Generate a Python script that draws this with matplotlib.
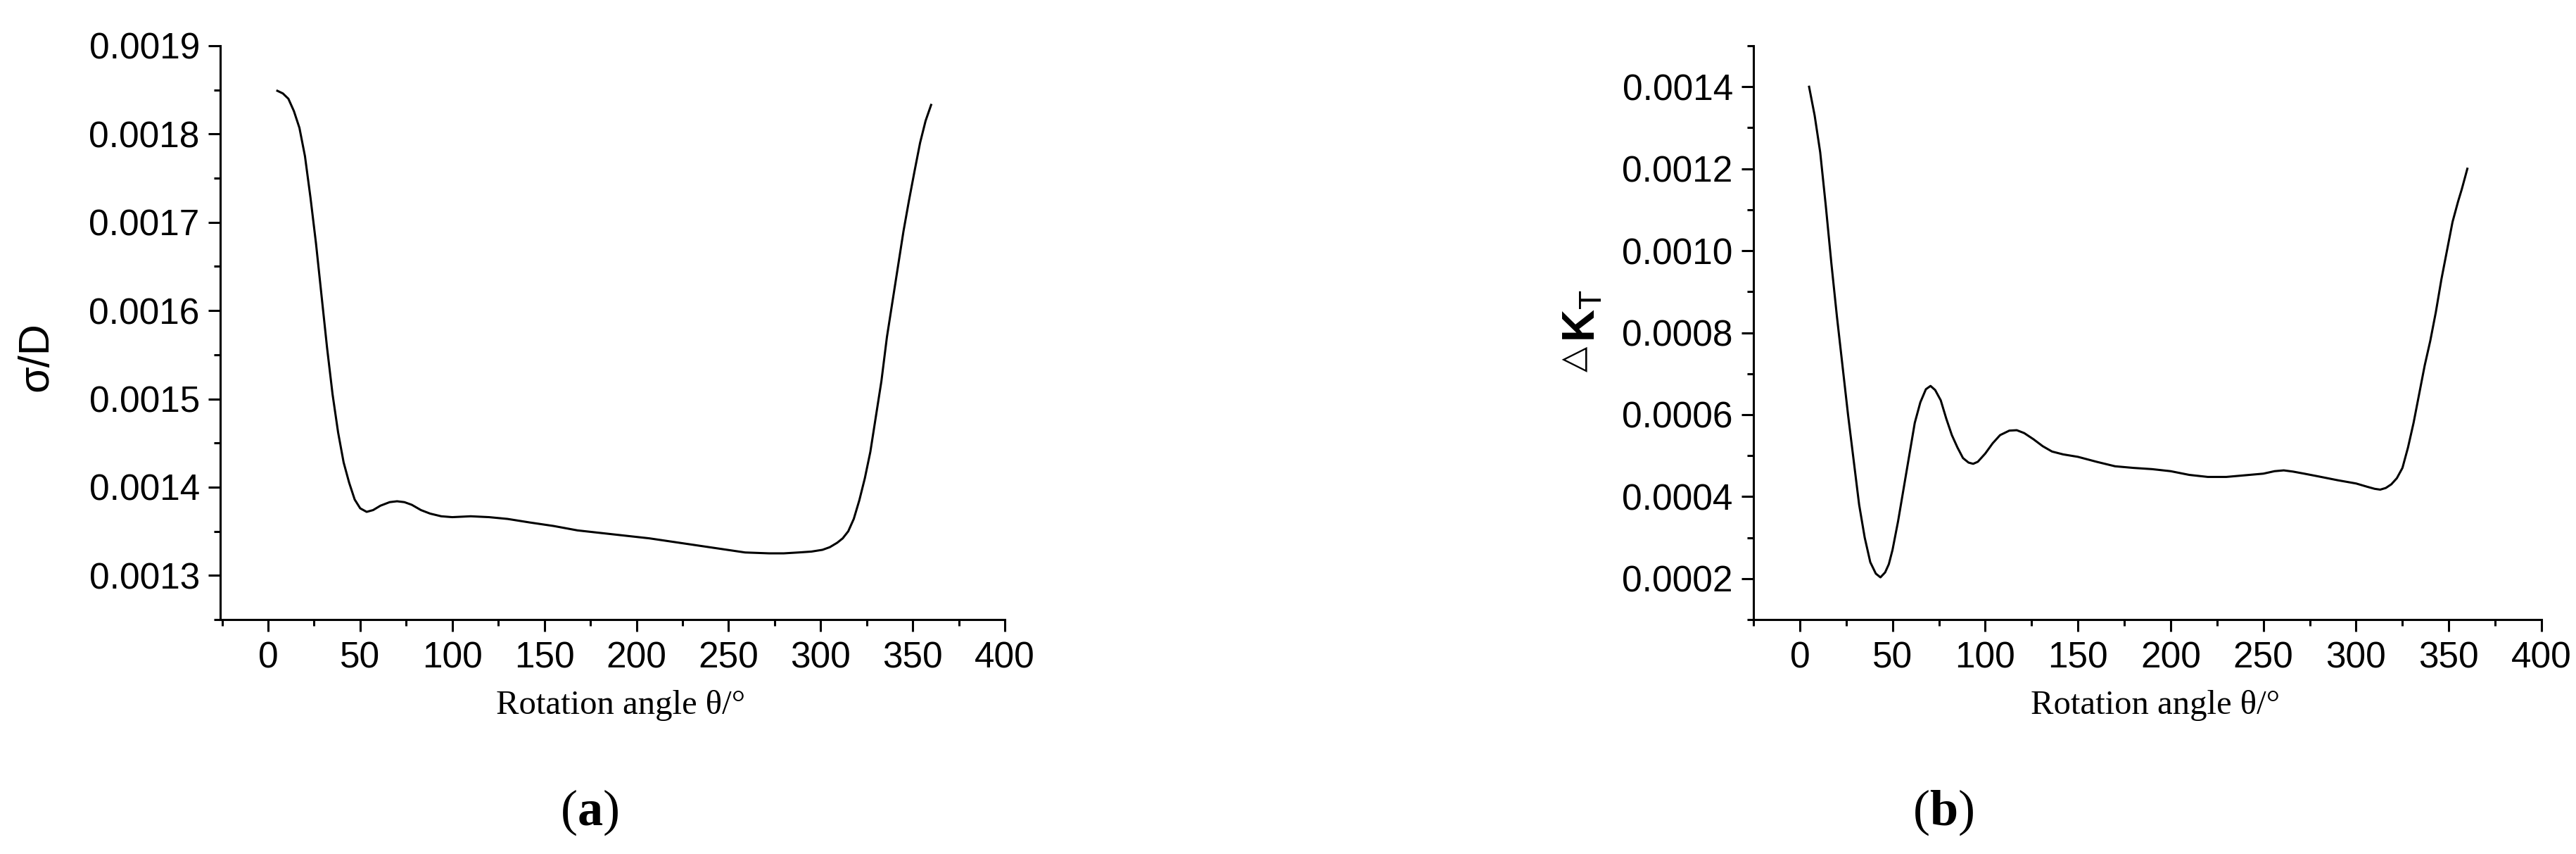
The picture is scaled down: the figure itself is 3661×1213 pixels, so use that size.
import matplotlib
matplotlib.use("Agg")
import matplotlib.pyplot as plt
from matplotlib.ticker import MultipleLocator, FormatStrFormatter

# ---------------- data ----------------
theta_a = [5, 8, 11, 14, 17, 20, 23, 26, 29, 32, 35, 38, 41, 44, 47, 50, 53.5, 57, 61, 66,
           70, 74, 78, 83, 88, 94, 100, 110, 120, 130, 142, 155, 168, 181, 194, 207, 220,
           233, 246, 259, 272, 280, 288, 295, 301, 305, 309, 312, 315, 318, 321, 324, 327,
           330, 333, 336, 339, 342, 345, 348, 351, 354, 357, 360]
sigma_d = [0.001849, 0.001846, 0.001840, 0.001826, 0.001807, 0.001775, 0.001728, 0.001676,
           0.001617, 0.001558, 0.001505, 0.001462, 0.001428, 0.001405, 0.001386, 0.001376,
           0.001372, 0.001374, 0.001379, 0.001383, 0.001384, 0.001383, 0.001380, 0.001374,
           0.001370, 0.001367, 0.001366, 0.001367, 0.001366, 0.001364, 0.001360, 0.001356,
           0.001351, 0.001348, 0.001345, 0.001342, 0.001338, 0.001334, 0.001330, 0.001326,
           0.001325, 0.001325, 0.001326, 0.001327, 0.001329, 0.001332, 0.001337, 0.001342,
           0.001350, 0.001364, 0.001385, 0.001410, 0.001440, 0.001480, 0.001520, 0.001570,
           0.001610, 0.001650, 0.001690, 0.001725, 0.001758, 0.001790, 0.001815, 0.001833]

theta_b = [5, 8, 11, 14, 17, 20, 23, 26, 29, 32, 35, 38, 41, 43.5, 46, 48, 50, 53, 56, 59,
           62, 65, 68, 70.5, 73, 76, 79, 82, 85, 88, 91, 93.5, 96, 100, 104, 108, 113, 117,
           121, 126, 131, 136, 142, 150, 160, 170, 180, 190, 200, 210, 220, 230, 240, 250,
           256, 261, 266, 272, 280, 290, 300, 306, 310, 313, 316, 319, 322, 325, 328, 331,
           334, 337, 340, 343, 346, 349, 352, 355, 357, 360]
delta_kt = [0.00140, 0.00133, 0.00124, 0.00111, 0.00097, 0.00084, 0.00072, 0.00060, 0.00049,
            0.00038, 0.00030, 0.00024, 0.000212, 0.000203, 0.000215, 0.000235, 0.00027,
            0.00034, 0.00042, 0.00050, 0.00058, 0.00063, 0.000662, 0.00067, 0.00066,
            0.000635, 0.00059, 0.00055, 0.00052, 0.000494, 0.000483, 0.00048, 0.000485,
            0.000505, 0.00053, 0.00055, 0.000561, 0.000562, 0.000555, 0.00054, 0.000523,
            0.00051, 0.000503, 0.000497, 0.000485, 0.000474, 0.00047, 0.000467, 0.000462,
            0.000453, 0.000448, 0.000448, 0.000452, 0.000456, 0.000462, 0.000464, 0.000461,
            0.000456, 0.000449, 0.00044, 0.000432, 0.000424, 0.000419, 0.000417, 0.000421,
            0.00043, 0.000445, 0.00047, 0.00052, 0.00058, 0.00065, 0.00072, 0.00078,
            0.00085, 0.00093, 0.00100, 0.00107, 0.00112, 0.00115, 0.00120]

x_label = "Rotation angle θ/°"
y_label_a = "σ/D"
y_label_b_tri = "△"
y_label_b_rest = "$\\mathbf{K}_{\\mathrm{T}}$"

# ---------------- style ----------------
plt.rcParams['font.family'] = ['Liberation Sans', 'DejaVu Sans']
plt.rcParams['mathtext.fontset'] = 'custom'
plt.rcParams['mathtext.rm'] = 'Liberation Sans'
plt.rcParams['mathtext.bf'] = 'Liberation Sans:bold'
plt.rcParams['mathtext.sf'] = 'Liberation Serif:bold'

W, H = 3662, 1213
fig = plt.figure(figsize=(W / 100, H / 100), dpi=100)

def fx(px):
    return px / W

def fy(py):
    return 1 - py / H

top_px, bot_px = 65, 880
ax_a = fig.add_axes([fx(313), fy(bot_px), fx(1428 - 313), (bot_px - top_px) / H])
ax_b = fig.add_axes([fx(2492), fy(bot_px), fx(3612 - 2492), (bot_px - top_px) / H])

LW = 2.2
for ax in (ax_a, ax_b):
    for s in ('top', 'right'):
        ax.spines[s].set_visible(False)
    for s in ('left', 'bottom'):
        ax.spines[s].set_linewidth(LW)
    ax.tick_params(which='major', direction='out', length=12, width=LW,
                   labelsize=37, pad=9)
    ax.tick_params(which='minor', direction='out', length=6.5, width=LW)
    ax.tick_params(axis='x', which='major', pad=10)
    ax.xaxis.set_major_locator(MultipleLocator(50))
    ax.xaxis.set_minor_locator(MultipleLocator(25))

ax_a.plot(theta_a, sigma_d, color='black', lw=LW)
ax_a.set_xlim(-26, 400)
ax_a.set_ylim(0.00125, 0.0019)
ax_a.yaxis.set_major_locator(MultipleLocator(0.0001))
ax_a.yaxis.set_minor_locator(MultipleLocator(0.00005))
ax_a.yaxis.set_major_formatter(FormatStrFormatter('%.4f'))

ax_b.plot(theta_b, delta_kt, color='black', lw=LW)
ax_b.set_xlim(-25, 400)
ax_b.set_ylim(0.0001, 0.0015)
ax_b.yaxis.set_major_locator(MultipleLocator(0.0002))
ax_b.yaxis.set_minor_locator(MultipleLocator(0.0001))
ax_b.yaxis.set_major_formatter(FormatStrFormatter('%.4f'))

# x labels (serif)
for ax in (ax_a, ax_b):
    ax.text(0.51, (bot_px - 1014) / (bot_px - top_px), x_label, transform=ax.transAxes,
            ha='center', va='baseline', fontsize=35, family=['Liberation Serif', 'DejaVu Serif'])

# y labels
fig.text(fx(52), fy(507), y_label_a, rotation=90, ha='center', va='center', fontsize=44)
# triangle (outline) then bold K with subscript T, stacked upward
fig.text(fx(2238), fy(510), y_label_b_tri, rotation=90, ha='center', va='center',
         fontsize=34, family=['DejaVu Sans'])
fig.text(fx(2250), fy(486), y_label_b_rest, rotation=90, ha='center', va='bottom',
         fontsize=46)

# captions
for cx, letter in ((838, 'a'), (2762, 'b')):
    fig.text(fx(cx), fy(1172), "($\\mathsf{" + letter + "}$)", ha='center', va='baseline',
             fontsize=52, family=['Liberation Serif', 'DejaVu Serif'])

fig.savefig("out.png", dpi=100, facecolor='white')
